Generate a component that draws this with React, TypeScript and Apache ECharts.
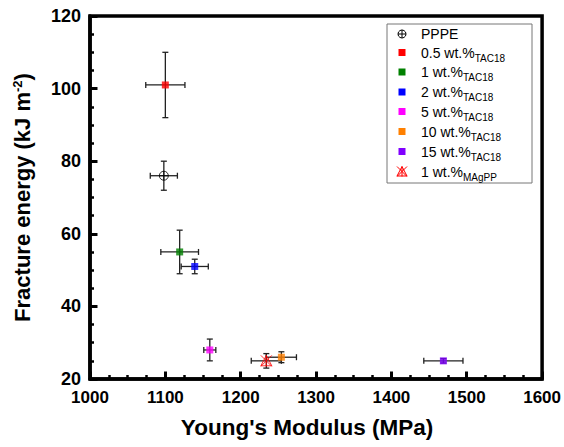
import React, { useEffect, useRef } from "react";
import * as echarts from "echarts";

// ---- data ----
const seriesNames = [
  "PPPE",
  "0.5 wt.%_TAC18",
  "1 wt.%_TAC18",
  "2 wt.%_TAC18",
  "5 wt.%_TAC18",
  "10 wt.%_TAC18",
  "15 wt.%_TAC18",
  "1 wt.%_MAgPP",
];
const modulus = [1098, 1100, 1119, 1139, 1159, 1254, 1469, 1234];
const modulusErr = [18, 26, 25, 18, 8, 20, 26, 20];
const energy = [76, 101, 55, 51, 28, 26, 25, 25];
const energyErr = [4, 9, 6, 2, 3, 1.5, 0.6, 2];
const colors = ["#000000", "#ff0000", "#008000", "#0000ff", "#ff00ff", "#ff8000", "#8000ff", "#ff0000"];

const xTicks = { min: 1000, max: 1600, interval: 100, minorSplit: 4 };
const yTicks = { min: 20, max: 120, interval: 20, minorSplit: 4 };

const FONT = "'Liberation Sans', Arial, Helvetica, sans-serif";
const PPPE_ICON = "path://M-4,0A4,4 0 1,0 4,0A4,4 0 1,0 -4,0ZM-4,0L4,0M0,-4L0,4";
const MAGPP_ICON = "path://M0,-5L5,4.5L-5,4.5ZM-5,-5L5,5M5,-5L-5,5M0,-5L0,5";

// legend layout (positions only)
const LEG = { x: 387, y: 24, w: 145, h: 159, iconX: 402, textX: 421 };
const legendRowY = [34, 52.5, 72, 92, 111.5, 131.5, 151.5, 171.5];

export default function App() {
  const ref = useRef<HTMLDivElement>(null);

  useEffect(() => {
    if (!ref.current) return;
    const chart = echarts.init(ref.current, undefined, { renderer: "svg" });

    const scatterSeries = seriesNames.map((name, i) => {
      let symbol = "rect";
      let itemStyle: any = { color: colors[i] };
      let symbolSize: number = 7;
      if (i === 0) {
        symbol = PPPE_ICON;
        symbolSize = 9;
        itemStyle = { color: "rgba(0,0,0,0)", borderColor: "#000", borderWidth: 1 };
      } else if (i === 7) {
        symbol = MAGPP_ICON;
        symbolSize = 11;
        itemStyle = { color: "rgba(255,0,0,0.08)", borderColor: "#ff0000", borderWidth: 1 };
      }
      return {
        name,
        type: "scatter",
        symbol,
        symbolSize,
        itemStyle,
        z: 5,
        data: [[modulus[i], energy[i]]],
      };
    });

    const errData = seriesNames.map((_, i) => [modulus[i], energy[i], modulusErr[i], energyErr[i]]);

    // legend drawn as graphic elements
    const legendEls: any[] = [
      {
        type: "rect",
        shape: { x: LEG.x, y: LEG.y, width: LEG.w, height: LEG.h },
        style: { fill: "#fff", stroke: "#777", lineWidth: 1 },
        z: 10,
      },
    ];
    seriesNames.forEach((name, i) => {
      const cy = legendRowY[i];
      const cx = LEG.iconX;
      if (i === 0) {
        legendEls.push(
          { type: "circle", shape: { cx, cy, r: 4 }, style: { fill: "none", stroke: "#000", lineWidth: 1 }, z: 11 },
          { type: "line", shape: { x1: cx - 4, y1: cy, x2: cx + 4, y2: cy }, style: { stroke: "#000", lineWidth: 1 }, z: 11 },
          { type: "line", shape: { x1: cx, y1: cy - 4, x2: cx, y2: cy + 4 }, style: { stroke: "#000", lineWidth: 1 }, z: 11 }
        );
      } else if (i === 7) {
        const st = { stroke: colors[i], lineWidth: 1 };
        legendEls.push(
          { type: "polygon", shape: { points: [[cx, cy - 5], [cx + 5, cy + 4.5], [cx - 5, cy + 4.5]] }, style: { fill: "rgba(255,0,0,0.08)", ...st }, z: 11 },
          { type: "line", shape: { x1: cx - 5, y1: cy - 5, x2: cx + 5, y2: cy + 5 }, style: st, z: 11 },
          { type: "line", shape: { x1: cx + 5, y1: cy - 5, x2: cx - 5, y2: cy + 5 }, style: st, z: 11 },
          { type: "line", shape: { x1: cx, y1: cy - 5, x2: cx, y2: cy + 5 }, style: st, z: 11 }
        );
      } else {
        legendEls.push({
          type: "rect",
          shape: { x: cx - 3.5, y: cy - 3.5, width: 7, height: 7 },
          style: { fill: colors[i] },
          z: 11,
        });
      }
      const parts = name.split("_");
      const text = parts.length > 1 ? `{m|${parts[0]}}{s|${parts[1]}}` : `{m|${parts[0]}}`;
      legendEls.push({
        type: "text",
        x: LEG.textX,
        y: cy,
        z: 11,
        style: {
          text,
          align: "left",
          verticalAlign: "middle",
          fontFamily: FONT,
          fill: "#000",
          rich: {
            m: { fontFamily: FONT, fontSize: 14, lineHeight: 14, fill: "#000", color: "#000" },
            s: { fontFamily: FONT, fontSize: 10, lineHeight: 10, fill: "#000", color: "#000", padding: [11, 0, 0, 0] },
          },
        },
      });
    });

    const axisCommon = {
      axisLine: { show: true, lineStyle: { color: "#000", width: 3.5 } },
      axisTick: { show: true, inside: true, length: 7.5, lineStyle: { color: "#000", width: 3 } },
      minorTick: { show: true, splitNumber: 4, length: 4, lineStyle: { color: "#000", width: 2.5 } },
      splitLine: { show: false },
      minorSplitLine: { show: false },
    };
    const labelCommon = {
      fontFamily: FONT,
      fontWeight: "bold",
      color: "#000",
      margin: 10,
      formatter: (v: number) => String(v),
    };

    const option: any = {
      animation: false,
      backgroundColor: "#ffffff",
      textStyle: { fontFamily: FONT },
      grid: {
        left: 90,
        right: 20,
        top: 16,
        bottom: 68,
        show: true,
        borderColor: "#000",
        borderWidth: 3.5,
        backgroundColor: "transparent",
      },
      xAxis: {
        type: "value",
        min: xTicks.min,
        max: xTicks.max,
        interval: xTicks.interval,
        name: "Young's Modulus (MPa)",
        nameLocation: "middle",
        nameGap: 37,
        nameTextStyle: { fontFamily: FONT, fontWeight: "bold", fontSize: 22.5, color: "#000", padding: [0, 18, 0, 0] },
        ...axisCommon,
        minorTick: { ...axisCommon.minorTick, splitNumber: xTicks.minorSplit },
        axisLabel: { ...labelCommon, fontSize: 17 },
      },
      yAxis: {
        type: "value",
        min: yTicks.min,
        max: yTicks.max,
        interval: yTicks.interval,
        name: "Fracture energy (kJ m{sup|-2})",
        nameLocation: "middle",
        nameGap: 56,
        nameTextStyle: {
          fontFamily: FONT,
          fontWeight: "bold",
          fontSize: 22,
          color: "#000",
          rich: { sup: { fontFamily: FONT, fontWeight: "bold", fontSize: 13, color: "#000", verticalAlign: "top", padding: [0, 0, 10, 0] } },
        },
        ...axisCommon,
        minorTick: { ...axisCommon.minorTick, splitNumber: yTicks.minorSplit },
        axisLabel: { ...labelCommon, fontSize: 18, margin: 9 },
      },
      graphic: legendEls,
      series: [
        {
          name: "errorbars",
          type: "custom",
          z: 2,
          encode: { x: 0, y: 1 },
          data: errData,
          renderItem: (_params: any, api: any) => {
            const x = api.value(0);
            const y = api.value(1);
            const ex = api.value(2);
            const ey = api.value(3);
            const l = api.coord([x - ex, y]);
            const r = api.coord([x + ex, y]);
            const t = api.coord([x, y + ey]);
            const b = api.coord([x, y - ey]);
            const cap = 3;
            const st = { stroke: "#222", lineWidth: 1.3 };
            return {
              type: "group",
              children: [
                { type: "line", shape: { x1: l[0], y1: l[1], x2: r[0], y2: r[1] }, style: st },
                { type: "line", shape: { x1: l[0], y1: l[1] - cap, x2: l[0], y2: l[1] + cap }, style: st },
                { type: "line", shape: { x1: r[0], y1: r[1] - cap, x2: r[0], y2: r[1] + cap }, style: st },
                { type: "line", shape: { x1: t[0], y1: t[1], x2: b[0], y2: b[1] }, style: st },
                { type: "line", shape: { x1: t[0] - cap, y1: t[1], x2: t[0] + cap, y2: t[1] }, style: st },
                { type: "line", shape: { x1: b[0] - cap, y1: b[1], x2: b[0] + cap, y2: b[1] }, style: st },
              ],
            };
          },
        },
        ...scatterSeries,
      ],
    };

    chart.setOption(option);
    return () => chart.dispose();
  }, []);

  return (
    <div
      ref={ref}
      style={{ position: "absolute", left: 0, top: 0, width: 564, height: 447, background: "#fff" }}
    />
  );
}
